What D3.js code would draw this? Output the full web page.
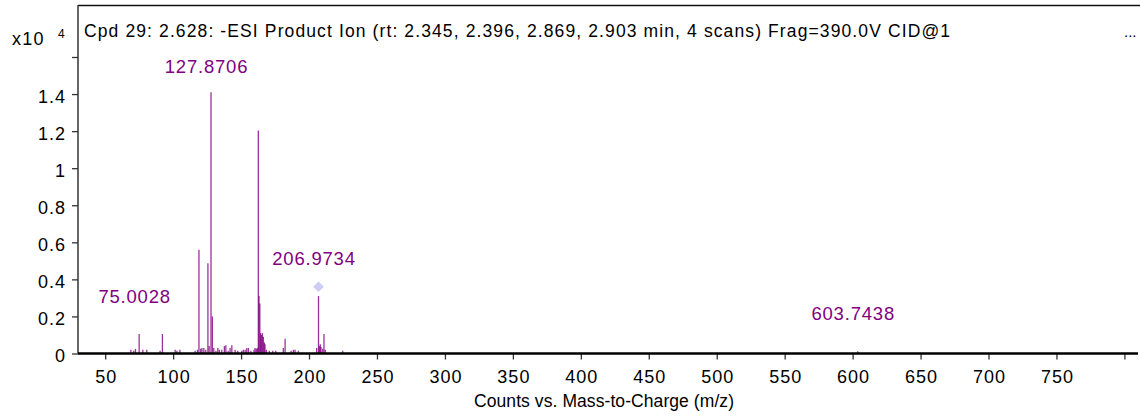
<!DOCTYPE html>
<html>
<head>
<meta charset="utf-8">
<script src="https://cdn.jsdelivr.net/npm/d3@7"></script>
<style>
  html, body { margin: 0; padding: 0; background: #fff; }
  svg { display: block; font-family: "Liberation Sans", Arial, sans-serif; }
</style>
</head>
<body>
<svg id="chart" width="1140" height="419"></svg>
<script>
// ---- data ----
const peakMz = [68.9, 71.0, 72.3, 75.0028, 77.7, 80.6, 90.4, 92.1, 101.5, 102.8, 105.0,
  116.2, 117.9, 119.0, 120.3, 121.2, 122.6, 124.0, 125.6, 126.5, 127.8706, 128.87, 129.9,
  131.5, 132.9, 134.0, 135.8, 137.7, 138.8, 140.5, 141.9, 143.2, 145.6, 147.5, 150.5,
  151.7, 153.0, 154.2, 155.4, 157.2, 159.5, 160.3, 161.2, 162.0, 162.7, 163.2, 163.8,
  164.4, 165.0, 165.7, 166.4, 167.1, 167.6, 168.6, 170.8, 173.3, 175.5, 181.1, 182.4,
  186.8, 188.5, 189.7, 192.1, 205.6, 206.9734, 207.6, 208.3, 208.8, 210.1, 211.0, 212.0,
  224.8, 603.7438];
const peakIntensity = [0.02, 0.015, 0.025, 0.105, 0.02, 0.02, 0.015, 0.105, 0.02, 0.015, 0.02,
  0.015, 0.02, 0.56, 0.025, 0.03, 0.03, 0.02, 0.487, 0.04, 1.41, 0.2, 0.03,
  0.015, 0.03, 0.02, 0.02, 0.04, 0.045, 0.015, 0.03, 0.045, 0.02, 0.015, 0.015,
  0.02, 0.02, 0.03, 0.03, 0.015, 0.02, 0.03, 0.025, 0.03, 1.203, 0.31, 0.27,
  0.11, 0.10, 0.11, 0.09, 0.06, 0.05, 0.02, 0.015, 0.015, 0.015, 0.03, 0.08,
  0.015, 0.02, 0.02, 0.015, 0.03, 0.31, 0.04, 0.05, 0.035, 0.025, 0.105, 0.02,
  0.015, 0.012];
const labelMz = [127.8706, 206.9734, 75.0028, 603.7438];
const labelText = ["127.8706", "206.9734", "75.0028", "603.7438"];
const labelIntensity = [1.41, 0.31, 0.105, 0.012];
const precursorMz = [206.9734];
const precursorIntensity = [0.36];
const xTickValues = [50, 100, 150, 200, 250, 300, 350, 400, 450, 500, 550, 600, 650, 700, 750, 800];
const xTickLabels = ["50", "100", "150", "200", "250", "300", "350", "400", "450", "500", "550", "600", "650", "700", "750", ""];
const yTickValues = [0, 0.2, 0.4, 0.6, 0.8, 1.0, 1.2, 1.4, 1.6];
const yTickLabels = ["0", "0.2", "0.4", "0.6", "0.8", "1", "1.2", "1.4", ""];
const titleText = "Cpd 29: 2.628: -ESI Product Ion (rt: 2.345, 2.396, 2.869, 2.903 min, 4 scans) Frag=390.0V CID@1";
const xAxisTitle = "Counts vs. Mass-to-Charge (m/z)";

// ---- layout ----
const svg = d3.select("#chart");
const mLeft = 78, mRight = 1138, mTop = 5, mBottom = 353.5;
const x = d3.scaleLinear().domain([30, 810]).range([mLeft, mRight]);
const y = d3.scaleLinear().domain([0, 1.6]).range([mBottom, 57]);
const purple = "#800080";
const tickFont = 18, tickLS = 1;

// frame: top line + left axis line
svg.append("line").attr("x1", mLeft).attr("x2", 1140).attr("y1", mTop + 0.5).attr("y2", mTop + 0.5)
  .attr("stroke", "#111").attr("stroke-width", 1.5);
svg.append("line").attr("x1", mLeft).attr("x2", mLeft).attr("y1", mTop).attr("y2", mBottom)
  .attr("stroke", "#333").attr("stroke-width", 1.5);

// title
svg.append("text").attr("x", 84).attr("y", 37).attr("font-size", 17.5).attr("fill", "#000")
  .attr("textLength", 866).attr("lengthAdjust", "spacing").text(titleText);
svg.append("text").attr("x", 1124).attr("y", 37).attr("font-size", 15).attr("fill", "#000").text("...");

// multiplier
svg.append("text").attr("x", 12).attr("y", 45).attr("font-size", 18).attr("letter-spacing", 1.3)
  .attr("fill", "#000").text("x10");
svg.append("text").attr("x", 58).attr("y", 38).attr("font-size", 12).attr("fill", "#000").text("4");

// peaks
const peaks = peakMz.map((m, i) => ({ mz: m, v: peakIntensity[i] }));
svg.append("g").selectAll("line").data(peaks).join("line")
  .attr("x1", d => x(d.mz)).attr("x2", d => x(d.mz))
  .attr("y1", y(0)).attr("y2", d => y(d.v))
  .attr("stroke", purple).attr("stroke-width", 1.3).attr("stroke-opacity", 0.8);

// precursor diamond
svg.append("g").selectAll("path").data(precursorMz.map((m, i) => ({ mz: m, v: precursorIntensity[i] })))
  .join("path")
  .attr("d", d3.symbol().type(d3.symbolDiamond2).size(72))
  .attr("transform", d => `translate(${x(d.mz)},${y(d.v)})`)
  .attr("fill", "#ccccf7");

// peak labels
const labels = labelMz.map((m, i) => ({ mz: m, t: labelText[i], v: labelIntensity[i] }));
svg.append("g").selectAll("text").data(labels).join("text")
  .attr("x", d => x(d.mz) - 4.5)
  .attr("y", d => Math.max(y(d.v) - 31, 73))
  .attr("text-anchor", "middle")
  .attr("font-size", 18.5).attr("letter-spacing", 0.8).attr("fill", purple)
  .text(d => d.t);

// x axis
const xAxis = d3.axisBottom(x).tickValues(xTickValues).tickSize(6).tickPadding(10.7)
  .tickFormat((d, i) => xTickLabels[i]);
const gx = svg.append("g").attr("transform", `translate(0,${mBottom})`).call(xAxis);
gx.select(".domain").remove();
gx.selectAll(".tick line").attr("stroke", "#333").attr("stroke-width", 1.3);
gx.selectAll(".tick text").attr("font-size", tickFont).attr("letter-spacing", tickLS)
  .attr("dx", tickLS / 2).attr("fill", "#000")
  .attr("font-family", "Liberation Sans, Arial, sans-serif");
svg.append("line").attr("x1", mLeft).attr("x2", mRight).attr("y1", mBottom).attr("y2", mBottom)
  .attr("stroke", "#000").attr("stroke-width", 2.5);

// y axis
const yAxis = d3.axisLeft(y).tickValues(yTickValues).tickSize(6).tickPadding(6)
  .tickFormat((d, i) => yTickLabels[i]);
const gy = svg.append("g").attr("transform", `translate(${mLeft},0)`).call(yAxis);
gy.select(".domain").remove();
gy.selectAll(".tick line").attr("stroke", "#333").attr("stroke-width", 1.3);
gy.selectAll(".tick text").attr("font-size", tickFont).attr("letter-spacing", tickLS)
  .attr("dy", "0.46em").attr("fill", "#000")
  .attr("font-family", "Liberation Sans, Arial, sans-serif");

// x axis title
svg.append("text").attr("x", 604).attr("y", 407).attr("text-anchor", "middle")
  .attr("font-size", 17.5).attr("textLength", 260).attr("lengthAdjust", "spacing")
  .attr("fill", "#000").text(xAxisTitle);
</script>
</body>
</html>
